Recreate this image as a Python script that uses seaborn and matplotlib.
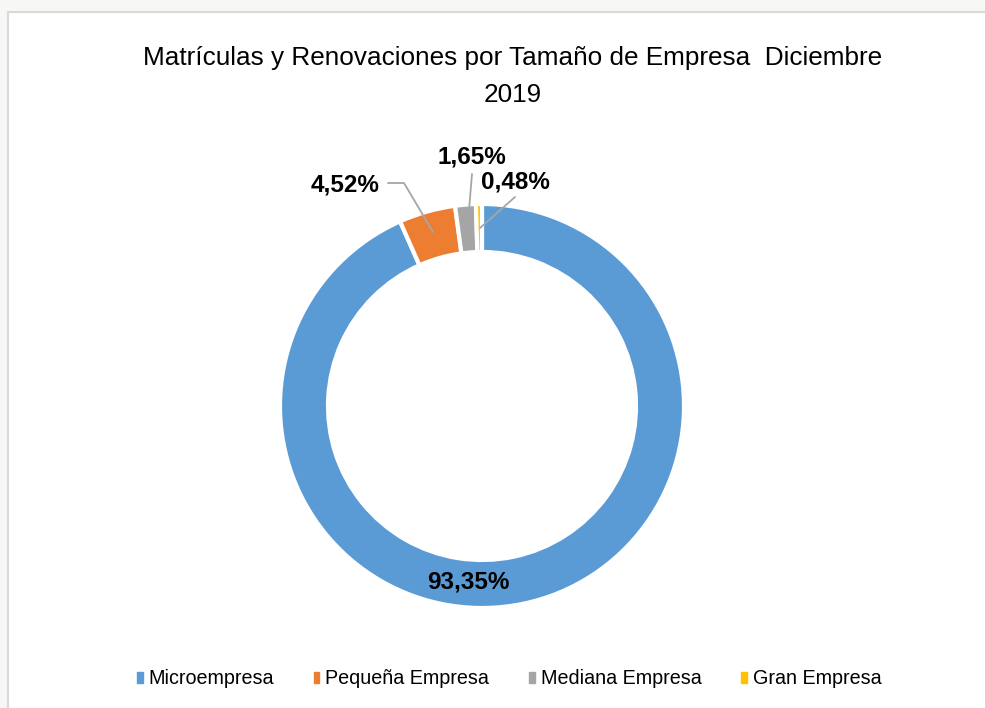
import matplotlib
matplotlib.use("Agg")
import matplotlib.pyplot as plt
import seaborn as sns
from matplotlib.patches import Rectangle

# data
categories = ["Microempresa", "Pequeña Empresa", "Mediana Empresa", "Gran Empresa"]
shares = [93.35, 4.52, 1.65, 0.48]
share_labels = ["93,35%", "4,52%", "1,65%", "0,48%"]
colors = ["#5B9BD5", "#ED7D31", "#A5A5A5", "#FFC000"]

sns.set_theme(style="white")
plt.rcParams["font.family"] = ["Liberation Sans", "DejaVu Sans"]

W, H = 985, 708
fig = plt.figure(figsize=(W / 100, H / 100), dpi=100)
fig.patch.set_facecolor("#f7f7f5")
ax = fig.add_axes([0, 0, 1, 1])

palette = sns.color_palette(colors)
cx, cy, r = 482, 406, 202
# y axis runs downward (pixel style), so angles are mirrored:
# start at -90 and go "counterclockwise" to get clockwise from the top on screen
wedges, _ = ax.pie(shares, colors=palette, startangle=-90, counterclock=True,
                   center=(cx, cy), radius=r, frame=True,
                   wedgeprops=dict(width=48, edgecolor="white", linewidth=3))
ax.set_xlim(0, W)
ax.set_ylim(H, 0)
ax.set_aspect("equal")
ax.axis("off")

# chart area frame
ax.add_patch(Rectangle((8, 12), W, H, facecolor="white", edgecolor="#d9d9d9", lw=1.5, zorder=0))

ax.text(513, 58, "Matrículas y Renovaciones por Tamaño de Empresa  Diciembre",
        ha="center", va="center", fontsize=18.8, color="#000000")
ax.text(513, 95, "2019", ha="center", va="center", fontsize=18.8, color="#000000")

lab_kw = dict(fontsize=17.5, fontweight="bold", ha="center", va="center", color="#000000")
ax.text(468, 582, share_labels[0], **lab_kw)
ax.text(345, 185, share_labels[1], **lab_kw)
ax.text(472, 157, share_labels[2], **lab_kw)
ax.text(515, 182, share_labels[3], **lab_kw)

line_kw = dict(color="#a6a6a6", lw=1.3)
ax.plot([388, 404, 433], [183, 183, 232], **line_kw)
ax.plot([472, 468], [174, 222], **line_kw)
ax.plot([515, 480], [197, 228], **line_kw)

handles = [Rectangle((0, 0), 1, 1, color=c) for c in palette]
leg = fig.legend(handles, categories, loc="center", bbox_to_anchor=(509 / W, 1 - 679 / H),
                 ncol=4, frameon=False, fontsize=14.2, handlelength=0.3, handleheight=0.45,
                 handletextpad=0.3, columnspacing=2.0)
for t in leg.get_texts():
    t.set_color("#000000")

fig.savefig("out.png", dpi=100)
